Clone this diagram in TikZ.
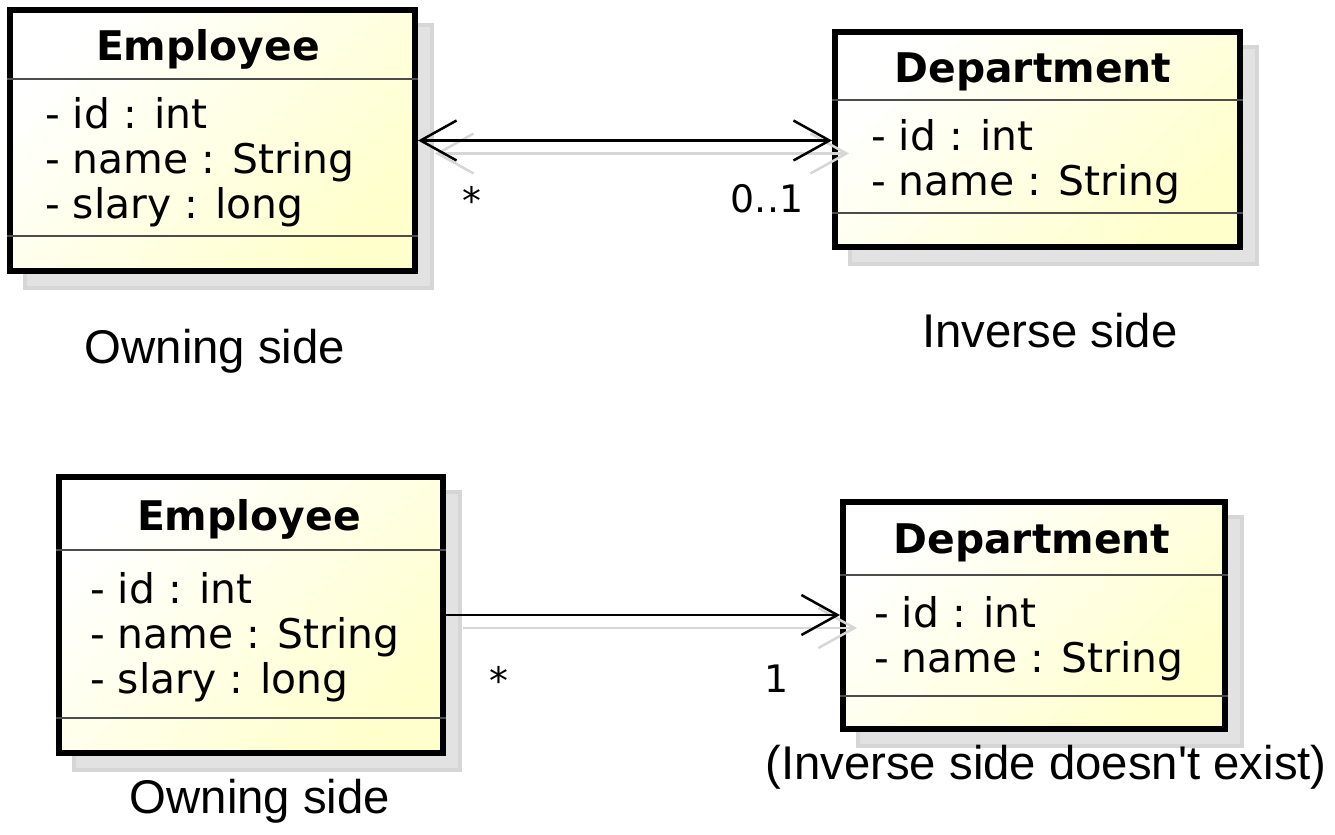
\documentclass[tikz,border=0pt]{standalone}
\usepackage{fontspec}
\newfontfamily\labelfont{Liberation Sans}
\newfontfamily\umlfont{DejaVu Sans}
\usepackage{tikz}
\usetikzlibrary{arrows.meta}
\usetikzlibrary{backgrounds}
\usetikzlibrary{calc}
\tikzset{openhead/.tip = {Straight Barb[length=36bp, width=40bp]}}
\tikzset{classbox/.style = {draw, line width=6bp, inner sep=0,
                            top color=white, bottom color=umlyellow, shading angle=45}}
\tikzset{boxshadow/.style = {fill=shadowgray, draw=shadowline, line width=4bp}}
\tikzset{sepline/.style = {line width=2bp, black!70}}
\tikzset{classname/.style = {font=\umlfont\bfseries\fontsize{41}{48}\selectfont, anchor=base, inner sep=0}}
\tikzset{attr/.style = {font=\umlfont\fontsize{41}{48}\selectfont, anchor=base west, inner sep=0}}
\tikzset{mult/.style = {font=\umlfont\fontsize{38}{44}\selectfont, anchor=base, inner sep=0}}
\tikzset{sidelabel/.style = {font=\labelfont\fontsize{47.5}{56}\selectfont, anchor=base, inner sep=0}}
\tikzset{assoc/.style = {line width=2.5bp, black}}
\tikzset{assocshadow/.style = {line width=2.5bp, shadowline}}
\definecolor{umlyellow}{RGB}{255,255,204}
\definecolor{shadowgray}{RGB}{226,226,226}
\definecolor{shadowline}{RGB}{214,214,214}

\begin{document}
\begin{tikzpicture}[x=1bp, y=-1bp]
        \useasboundingbox (0, 0) rectangle (1335, 834);

        % class boxes
        \node [classbox, minimum width=405bp, minimum height=261bp] (emp1) at (212.5, 140.5) {};
        \node [classbox, minimum width=405bp, minimum height=215bp] (dep1) at (1037.5, 139.5) {};
        \node [classbox, minimum width=384bp, minimum height=276bp] (emp2) at (251, 615) {};
        \node [classbox, minimum width=382bp, minimum height=227bp] (dep2) at (1034, 615.5) {};

        \begin{scope}[on background layer]
          \foreach \b in {emp1, dep1, emp2, dep2}
            \draw [boxshadow] ($(\b.south west)+(18, 14)$) rectangle ($(\b.north east)+(14, 18)$);
        \end{scope}

        % compartments
        \draw [sepline] (emp1.west |- 0,79) -- (emp1.east |- 0,79);
        \draw [sepline] (emp1.west |- 0,236) -- (emp1.east |- 0,236);
        \draw [sepline] (dep1.west |- 0,100) -- (dep1.east |- 0,100);
        \draw [sepline] (dep1.west |- 0,213) -- (dep1.east |- 0,213);
        \draw [sepline] (emp2.west |- 0,550) -- (emp2.east |- 0,550);
        \draw [sepline] (emp2.west |- 0,718) -- (emp2.east |- 0,718);
        \draw [sepline] (dep2.west |- 0,575) -- (dep2.east |- 0,575);
        \draw [sepline] (dep2.west |- 0,696) -- (dep2.east |- 0,696);

        \node [classname] (emp1name) at (208, 60) {Employee};
        \node [classname] (dep1name) at (1033, 82) {Department};
        \node [classname] (emp2name) at (249, 530) {Employee};
        \node [classname] (dep2name) at (1032, 553) {Department};

        \foreach \t [count=\i] in {- id : int, - name : String, - slary : long}
          \node [attr] (emp1a\i) at (45, 83 + 45*\i) {\t};
        \foreach \t [count=\i] in {- id : int, - name : String}
          \node [attr] (dep1a\i) at (871, 105 + 45*\i) {\t};
        \foreach \t [count=\i] in {- id : int, - name : String, - slary : long}
          \node [attr] (emp2a\i) at (90, 558 + 45*\i) {\t};
        \foreach \t [count=\i] in {- id : int, - name : String}
          \node [attr] (dep2a\i) at (874, 582 + 45*\i) {\t};

        % associations
        \draw [assocshadow, openhead-openhead] ($(emp1.east)+(17, 13)$) -- ($(emp1.east -| dep1.west)+(17, 13)$);
        \draw [assocshadow, -openhead] ($(emp2.east)+(17, 13)$) -- ($(emp2.east -| dep2.west)+(17, 13)$);
        \draw [assoc, openhead-openhead] (emp1.east) -- (emp1.east -| dep1.west);
        \draw [assoc, -openhead] (emp2.east) -- (emp2.east -| dep2.west);

        \node [mult] (m1a) at (472, 214) {*};
        \node [mult] (m1b) at (767, 212) {0..1};
        \node [mult] (m2a) at (499, 694) {*};
        \node [mult] (m2b) at (777, 692) {1};

        \node [sidelabel] (own1) at (215, 363) {Owning side};
        \node [sidelabel] (inv1) at (1050, 347) {Inverse side};
        \node [sidelabel] (own2) at (260, 813) {Owning side};
        \node [sidelabel] (inv2) at (1046, 779) {(Inverse side doesn't exist)};
      \end{tikzpicture}
\end{document}
